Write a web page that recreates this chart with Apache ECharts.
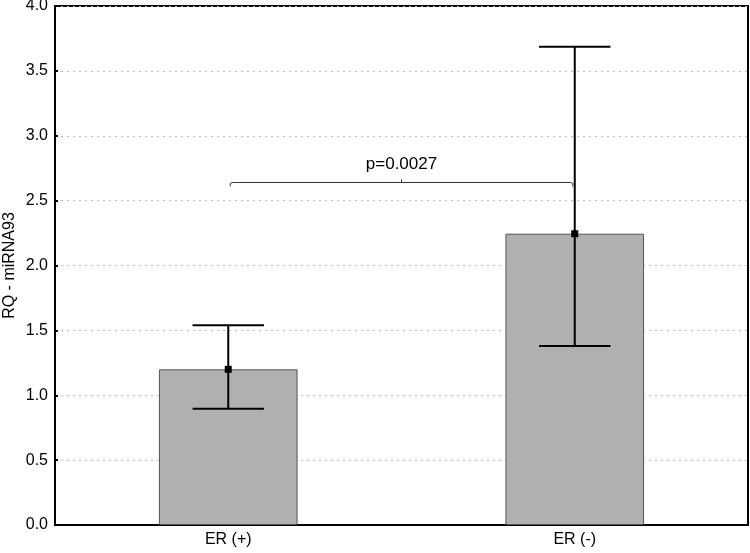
<!DOCTYPE html>
<html><head><meta charset="utf-8">
<script src="https://cdn.jsdelivr.net/npm/echarts@6/dist/echarts.min.js"></script>
<style>html,body{margin:0;padding:0;background:#fff}#c{width:750px;height:553px}</style>
</head><body><div id="c"></div>
<script>
const categories = ['ER (+)', 'ER (-)'];
const means = [1.20, 2.245];
const lowerErr = [0.895, 1.38];
const upperErr = [1.54, 3.685];
const yTicks = [0, 0.5, 1.0, 1.5, 2.0, 2.5, 3.0, 3.5, 4.0];
const bracket = { from: 0, to: 1, level: 2.64, label: 'p=0.0027' };

const chart = echarts.init(document.getElementById('c'));
const font = 'Liberation Sans, Arial, sans-serif';
chart.setOption({
  animation: false,
  grid: { left: 55, right: 2, top: 6, bottom: 28, containLabel: false, outerBoundsMode: 'none',
          show: true, borderColor: '#000', borderWidth: 2, backgroundColor: 'transparent' },
  xAxis: {
    type: 'category', data: categories,
    axisLine: { lineStyle: { color: '#000', width: 2 } },
    axisTick: { show: false },
    axisLabel: { color: '#000', fontSize: 16, fontFamily: font, margin: 7 }
  },
  yAxis: {
    type: 'value', min: yTicks[0], max: yTicks[yTicks.length - 1], interval: 0.5,
    name: 'RQ - miRNA93', nameLocation: 'middle', nameGap: 37, nameMoveOverlap: false,
    nameTextStyle: { color: '#000', fontSize: 16, fontFamily: font },
    axisLine: { show: true, lineStyle: { color: '#000', width: 2 } },
    axisTick: { show: true, inside: true, length: 3, lineStyle: { color: '#000', width: 2 } },
    axisLabel: { color: '#000', fontSize: 16, fontFamily: font, margin: 7, formatter: v => v.toFixed(1) },
    splitLine: { show: true, lineStyle: { color: '#b8b8b8', type: [2, 4], width: 1 } }
  },
  series: [
    {
      type: 'bar', data: means, barWidth: '40%',
      itemStyle: { color: '#b0b0b0', borderColor: '#555', borderWidth: 1 },
      z: 2
    },
    {
      type: 'custom', z: 5,
      data: categories.map((c, i) => [i, means[i], lowerErr[i], upperErr[i]]),
      renderItem: function (params, api) {
        const x = api.value(0);
        const mid = api.coord([x, api.value(1)]);
        const lo = api.coord([x, api.value(2)]);
        const hi = api.coord([x, api.value(3)]);
        const hw = api.size([1, 0])[0] * 0.103;
        const st = { stroke: '#000', lineWidth: 2 };
        return { type: 'group', children: [
          { type: 'line', shape: { x1: lo[0], y1: lo[1], x2: hi[0], y2: hi[1] }, style: st },
          { type: 'line', shape: { x1: hi[0] - hw, y1: hi[1], x2: hi[0] + hw, y2: hi[1] }, style: st },
          { type: 'line', shape: { x1: lo[0] - hw, y1: lo[1], x2: lo[0] + hw, y2: lo[1] }, style: st },
          { type: 'rect', shape: { x: mid[0] - 3.5, y: mid[1] - 3.5, width: 7, height: 7 }, style: { fill: '#000' } }
        ]};
      }
    },
    {
      type: 'custom', z: 6,
      data: [[bracket.from, bracket.to, bracket.level]],
      renderItem: function (params, api) {
        const a = api.coord([api.value(0), api.value(2)]);
        const b = api.coord([api.value(1), api.value(2)]);
        const y = a[1];
        const cx = (a[0] + b[0]) / 2;
        const st = { stroke: '#333', lineWidth: 1, fill: null };
        return { type: 'group', children: [
          { type: 'polyline', shape: { points: [[a[0] + 2, y + 4], [a[0] + 2, y + 1], [a[0] + 4, y], [b[0] - 4, y], [b[0] - 2, y + 1], [b[0] - 2, y + 4]] }, style: st },
          { type: 'line', shape: { x1: cx, y1: y, x2: cx, y2: y - 3 }, style: st },
          { type: 'text', style: { text: bracket.label, x: cx, y: y - 18, align: 'center', verticalAlign: 'middle', fill: '#000', font: '17px ' + font } }
        ]};
      }
    }
  ]
});
</script></body></html>
